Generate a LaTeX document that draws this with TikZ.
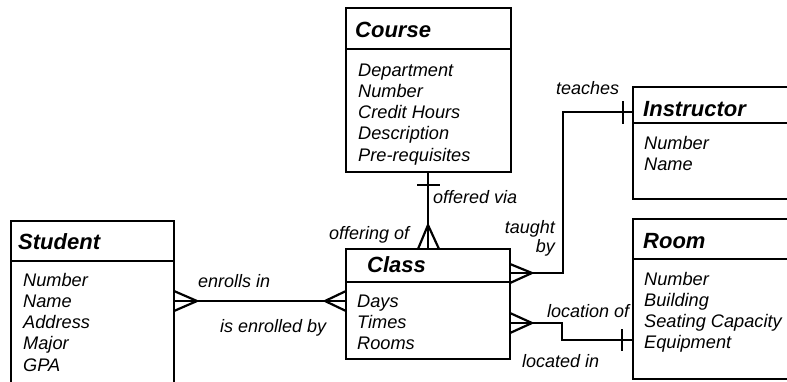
\documentclass[tikz,border=0pt]{standalone}
\usepackage{fontspec}
\setmainfont{Liberation Sans}
\begin{document}
\begin{tikzpicture}[x=1pt,y=-1pt,
  entity/.style={draw, line width=2.2pt, anchor=north west, inner sep=0pt, outer sep=0pt},
  etitle/.style={anchor=base west, inner sep=0pt, font=\fontsize{22}{22}\selectfont\bfseries\itshape},
  eattr/.style={anchor=base west, inner sep=0pt, font=\fontsize{18.2}{21.3}\selectfont\itshape},
  lbl/.style={inner sep=0pt, font=\fontsize{18}{20}\selectfont\itshape},
  conn/.style={line width=2.2pt, line cap=butt, line join=miter}]
\clip (0,0) rectangle (787,381);
\useasboundingbox (0,0) rectangle (787,381);

% entities
\node[entity, minimum width=163pt, minimum height=200pt] (student) at (11,221) {};
\node[entity, minimum width=165pt, minimum height=164pt] (course) at (346,8) {};
\node[entity, minimum width=164pt, minimum height=110pt] (class) at (346,249) {};
\node[entity, minimum width=170pt, minimum height=112pt] (instructor) at (633,87) {};
\node[entity, minimum width=170pt, minimum height=160pt] (room) at (633,219) {};

% header separators
\draw[conn] (student.west |- 0,261) -- (student.east |- 0,261);
\draw[conn] (course.west |- 0,49) -- (course.east |- 0,49);
\draw[conn] (class.west |- 0,282) -- (class.east |- 0,282);
\draw[conn] (instructor.west |- 0,123) -- (instructor.east |- 0,123);
\draw[conn] (room.west |- 0,259) -- (room.east |- 0,259);

% titles
\node[etitle] (studentT) at (18,249) {Student};
\node[etitle] (courseT) at (355,37) {Course};
\node[etitle] (classT) at (367,272) {Class};
\node[etitle] (instructorT) at (643,116) {Instructor};
\node[etitle] (roomT) at (643,248) {Room};

% attributes
\node[eattr] (studentA) at (23,286) {\begin{tabular}[t]{@{}l@{}}Number\\Name\\Address\\Major\\GPA\end{tabular}};
\node[eattr] (courseA) at (358,76) {\begin{tabular}[t]{@{}l@{}}Department\\Number\\Credit Hours\\Description\\Pre-requisites\end{tabular}};
\node[eattr] (classA) at (357,307) {\begin{tabular}[t]{@{}l@{}}Days\\Times\\Rooms\end{tabular}};
\node[eattr] (instructorA) at (644,149) {\begin{tabular}[t]{@{}l@{}}Number\\Name\end{tabular}};
\node[eattr] (roomA) at (644,285) {\begin{tabular}[t]{@{}l@{}}Number\\Building\\Seating Capacity\\Equipment\end{tabular}};

% connector coordinates
\coordinate (enA) at (student.east |- 0,301);
\coordinate (enB) at (class.west |- 0,301);
\coordinate (ofA) at (428,172);
\coordinate (ofB) at (428,249);
\coordinate (tbA) at (class.east |- 0,273);
\coordinate (tbB) at (instructor.west |- 0,112);
\coordinate (loA) at (class.east |- 0,323);
\coordinate (loB) at (room.west |- 0,340);

% enrolls
\draw[conn] (enA) -- (enB);
\draw[conn] (student.east |- 0,291) -- (197,301) -- (student.east |- 0,311);
\draw[conn] (class.west |- 0,291) -- (325,301) -- (class.west |- 0,311);

% offered
\draw[conn] (ofA) -- (ofB);
\draw[conn] (417,185) -- (440,185);
\draw[conn] (418,249) -- (428,225) -- (439,249);

% taught by / teaches
\draw[conn] (tbA) -- (563,273) -- (563,112) -- (tbB);
\draw[conn] (class.east |- 0,264) -- (532,273) -- (class.east |- 0,283);
\draw[conn] (623,101) -- (623,124);

% location
\draw[conn] (loA) -- (562,323) -- (562,340) -- (loB);
\draw[conn] (class.east |- 0,313) -- (532,323) -- (class.east |- 0,333);
\draw[conn] (622,329) -- (622,351);

% labels
\node[lbl, anchor=base west] (l1) at (198,287) {enrolls in};
\node[lbl, anchor=base west] (l2) at (220,332) {is enrolled by};
\node[lbl, anchor=base west] (l3) at (329,239) {offering of};
\node[lbl, anchor=base west] (l4) at (433,203) {offered via};
\node[lbl, anchor=base east] (l5) at (555,233) {taught};
\node[lbl, anchor=base east] (l6) at (555,252) {by};
\node[lbl, anchor=base west] (l7) at (556,94) {teaches};
\node[lbl, anchor=base west] (l8) at (547,317) {location of};
\node[lbl, anchor=base west] (l9) at (522,367) {located in};
\end{tikzpicture}
\end{document}
